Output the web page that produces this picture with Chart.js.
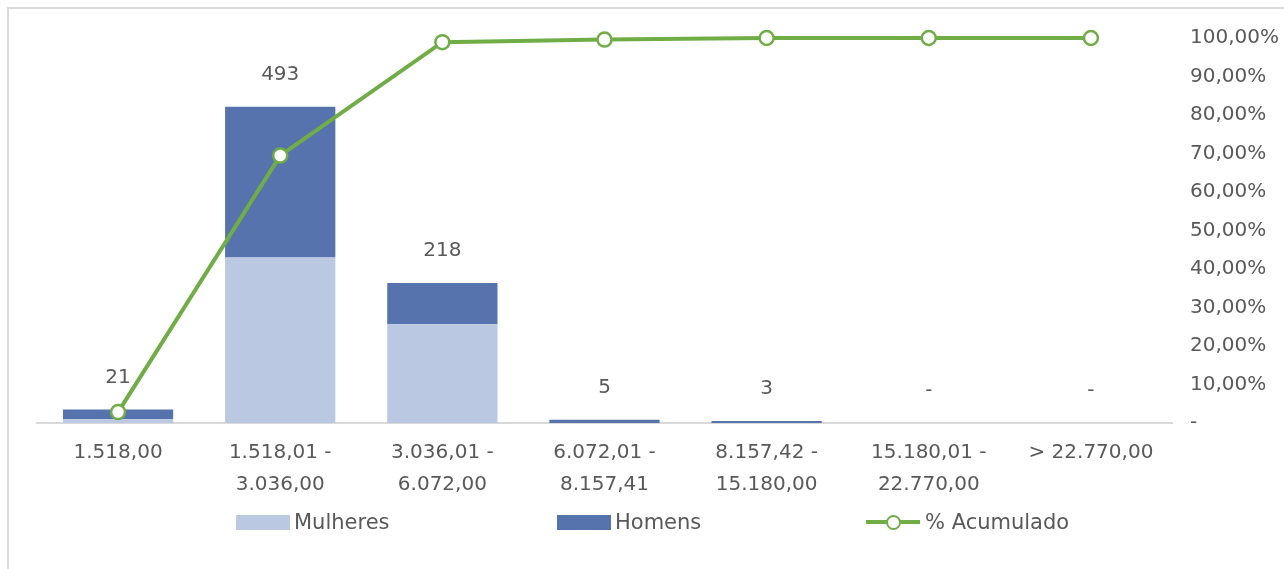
<!DOCTYPE html>
<html>
<head>
<meta charset="utf-8">
<script src="https://cdn.jsdelivr.net/npm/chart.js@4.4.1/dist/chart.umd.min.js"></script>
<style>
  html, body { margin:0; padding:0; background:#fff; }
  body { width:1284px; height:569px; overflow:hidden; position:relative; font-family:"DejaVu Sans", sans-serif; }
  #frame { position:absolute; left:7px; top:7px; width:1300px; height:600px; border-top:2px solid #d9d9d9; border-left:2px solid #d9d9d9; }
  #c { position:absolute; left:0; top:0; }
  .lg { position:absolute; top:507px; height:30px; line-height:30px; font-size:21px; color:#595959; white-space:nowrap; }
  .box { position:absolute; top:515px; width:54px; height:15px; }
</style>
</head>
<body>
<div id="frame"></div>
<canvas id="c" width="1284" height="569"></canvas>
<div class="box" style="left:236px;background:#BAC8E2;"></div>
<div class="lg" style="left:294px;">Mulheres</div>
<div class="box" style="left:557px;background:#5673AD;"></div>
<div class="lg" style="left:615px;">Homens</div>
<div style="position:absolute;left:866px;top:520px;width:54px;height:4px;background:#70AD47;"></div>
<div style="position:absolute;left:886px;top:515px;width:11px;height:11px;border-radius:50%;background:#fff;border:2px solid #70AD47;"></div>
<div class="lg" style="left:925px;">% Acumulado</div>
<script>
const categories = [
  "1.518,00",
  ["1.518,01 -", "3.036,00"],
  ["3.036,01 -", "6.072,00"],
  ["6.072,01 -", "8.157,41"],
  ["8.157,42 -", "15.180,00"],
  ["15.180,01 -", "22.770,00"],
  "> 22.770,00"
];
const mulheres = [6, 258, 154, 0, 0, 0, 0];
const homens = [15, 235, 64, 5, 3, 0, 0];
const acumulado = [2.84, 69.46, 98.92, 99.59, 100, 100, 100];

const textColor = "#595959";
const fontFamily = "'DejaVu Sans', sans-serif";

const totalsPlugin = {
  id: "totals",
  beforeDatasetsDraw(chart) {
    const ctx = chart.ctx;
    const xs = chart.scales.x, ys = chart.scales.y;
    ctx.save();
    ctx.font = "20px " + fontFamily;
    ctx.fillStyle = textColor;
    ctx.textAlign = "center";
    ctx.textBaseline = "middle";
    categories.forEach((c, i) => {
      const total = mulheres[i] + homens[i];
      const x = xs.getPixelForValue(i);
      const y = ys.getPixelForValue(total) - 32;
      ctx.fillText(total > 0 ? String(total) : "-", x, y);
    });
    ctx.restore();
  }
};

new Chart(document.getElementById("c"), {
  type: "bar",
  data: {
    labels: categories,
    datasets: [
      { type: "line", label: "% Acumulado", data: acumulado, yAxisID: "y1", order: 0,
        borderColor: "#70AD47", borderWidth: 4, backgroundColor: "#ffffff",
        pointRadius: 7, pointBorderWidth: 2.5, pointBackgroundColor: "#ffffff", pointBorderColor: "#70AD47",
        tension: 0, clip: false },
      { label: "Mulheres", data: mulheres, backgroundColor: "#BAC8E2", yAxisID: "y", order: 1, stack: "s" },
      { label: "Homens", data: homens, backgroundColor: "#5673AD", yAxisID: "y", order: 1, stack: "s" }
    ]
  },
  options: {
    responsive: false,
    animation: false,
    devicePixelRatio: 1,
    layout: { padding: { left: 37, top: 38, right: 0, bottom: 68 } },
    datasets: { bar: { categoryPercentage: 1, barPercentage: 0.68 } },
    plugins: { legend: { display: false }, tooltip: { enabled: false }, title: { display: false } },
    scales: {
      x: {
        stacked: true,
        grid: { display: false, drawTicks: false },
        border: { display: true, color: "#d9d9d9", width: 2 },
        ticks: { color: textColor, padding: 14, maxRotation: 0, autoSkip: false,
                 font: { family: fontFamily, size: 20, lineHeight: 1.6 } },
        afterFit(s) { s.height = 78; }
      },
      y: {
        stacked: true, display: false, min: 0, max: 600
      },
      y1: {
        position: "right", min: 0, max: 100,
        grid: { display: false, drawTicks: false },
        border: { display: false },
        ticks: { stepSize: 10, color: textColor, padding: 18,
                 font: { family: fontFamily, size: 20 },
                 callback: v => v === 0 ? "-" : v.toFixed(2).replace(".", ",") + "%" },
        afterFit(s) { s.width = 112; }
      }
    }
  },
  plugins: [totalsPlugin]
});
</script>
</body>
</html>
